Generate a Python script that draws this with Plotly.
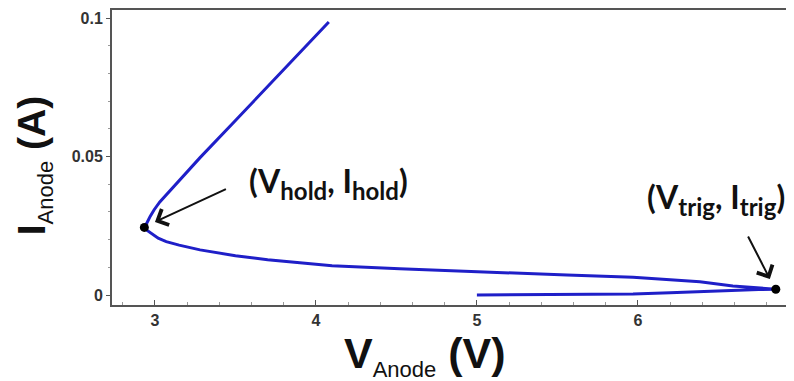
import plotly.graph_objects as go

### 데이터 (I-V 곡선, 화면에서 읽은 값)
v_anode = [5.0, 5.5, 5.97, 6.2, 6.385, 6.59, 6.75, 6.857,
           6.75, 6.59, 6.385, 6.2, 5.97, 5.56, 5.0, 4.52, 4.1, 3.7, 3.5, 3.28, 3.15, 3.07, 3.02,
           2.99, 2.96, 2.945, 2.934, 2.94, 2.952, 2.97, 2.995, 3.03, 3.07, 3.155, 3.28, 3.5, 3.69, 3.9, 4.08]
i_anode = [0.0, 0.0001, 0.0004, 0.0008, 0.0012, 0.0018, 0.002, 0.0021,
           0.0026, 0.0033, 0.0048, 0.0056, 0.0064, 0.0072, 0.0083, 0.0095, 0.0106, 0.0127, 0.0142, 0.0163, 0.018, 0.0193, 0.0205,
           0.0217, 0.0228, 0.0236, 0.0244, 0.0252, 0.0263, 0.0284, 0.0308, 0.0336, 0.0362, 0.0417, 0.0496, 0.063, 0.0746, 0.0873, 0.0986]

# 특성점 (hold, trigger)
pt_v = [2.934, 6.857]
pt_i = [0.0244, 0.0021]

x_ticks = [3, 4, 5, 6, 7]
x_tick_text = ['<b>3</b>', '<b>4</b>', '<b>5</b>', '<b>6</b>', '<b>7</b>']
y_ticks = [0, 0.05, 0.1]
y_tick_text = ['<b>0</b>', '<b>0.05</b>', '<b>0.1</b>']

fig = go.Figure()
fig.add_trace(go.Scatter(x=v_anode, y=i_anode, mode='lines',
                         line=dict(color='#1f1fc8', width=3),
                         showlegend=False))
fig.add_trace(go.Scatter(x=pt_v, y=pt_i, mode='markers',
                         marker=dict(color='black', size=9), showlegend=False))

# 화살표
fig.add_annotation(x=3.0, y=0.0264, ax=3.45, ay=0.0385, axref='x', ayref='y',
                   showarrow=True, arrowhead=4, arrowsize=1.7, arrowwidth=2,
                   arrowcolor='#111', text='')
fig.add_annotation(x=6.82, y=0.0058, ax=6.68, ay=0.0217, axref='x', ayref='y',
                   showarrow=True, arrowhead=4, arrowsize=1.7, arrowwidth=2,
                   arrowcolor='#111', text='')

# 라벨
lab_font = dict(family='Lato', size=32, color='#111', weight='bold')
sub = '<sub><span style="font-size:24px">{}</span></sub>'
fig.add_annotation(x=4.075, y=0.0405, showarrow=False, font=lab_font,
                   text='(V' + sub.format('hold') + ', I' + sub.format('hold') + ')')
fig.add_annotation(x=6.485, y=0.0345, showarrow=False, font=lab_font,
                   text='(V' + sub.format('trig') + ', I' + sub.format('trig') + ')')

# 축 제목
fig.add_annotation(xref='paper', yref='paper', x=-0.114, y=0.471, textangle=-90,
                   xanchor='center', yanchor='middle',
                   showarrow=False, font=dict(family='Liberation Sans', size=39, color='#111'),
                   text='<b>I</b><sub><span style="font-size:22px">Anode</span></sub><b> (A)</b>')
fig.add_annotation(xref='paper', yref='paper', x=0.459, y=-0.172,
                   xanchor='center', yanchor='middle',
                   showarrow=False, font=dict(family='Liberation Sans', size=43, color='#111'),
                   text='<b>V</b><sub><span style="font-size:22px">Anode</span></sub><b> (V)</b>')

tick_font = dict(family='Liberation Sans', size=16, color='#333')
fig.update_layout(
    width=794, height=381,
    margin=dict(l=104, r=8, t=2, b=84),
    plot_bgcolor='white', paper_bgcolor='white',
    xaxis=dict(range=[2.733, 6.97], tickvals=x_ticks, ticktext=x_tick_text, tickfont=tick_font,
               automargin=False,
               showgrid=False, zeroline=False, showline=True, linecolor='#555', linewidth=2,
               mirror=True, ticks='inside', ticklen=5, tickcolor='#555',
               minor=dict(dtick=0.2, ticks='inside', ticklen=3, tickcolor='#999')),
    yaxis=dict(range=[-0.0036, 0.1029], tickvals=y_ticks, ticktext=y_tick_text, tickfont=tick_font,
               automargin=False,
               showgrid=False, zeroline=False, showline=True, linecolor='#555', linewidth=2,
               ticks='outside', ticklen=4, tickcolor='#555',
               minor=dict(dtick=0.01, ticks='outside', ticklen=2, tickcolor='#999')),
)

fig.write_html("out.html")
